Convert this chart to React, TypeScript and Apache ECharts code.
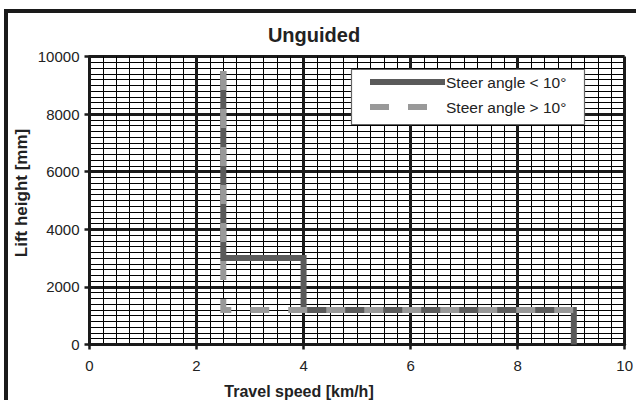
import React, { useEffect, useRef } from "react";
import * as echarts from "echarts";

const title = "Unguided";
const xAxisName = "Travel speed [km/h]";
const yAxisName = "Lift height [mm]";
const seriesNames = ["Steer angle < 10°", "Steer angle > 10°"];

// Steer angle < 10° (solid, dark)
const lowAngleSpeed = [2.5, 2.5, 4.0, 4.0, 9.05, 9.05];
const lowAngleHeight = [9500, 3000, 3000, 1200, 1200, 0];

// Steer angle > 10° (dashed, light)
const highAngleSpeed = [2.5, 2.5, 9.05];
const highAngleHeight = [9500, 1200, 1200];

const FONT = "Liberation Sans, Arial, sans-serif";

export default function App() {
  const ref = useRef<HTMLDivElement>(null);

  useEffect(() => {
    if (!ref.current) return;
    const chart = echarts.init(ref.current, null, { renderer: "svg" });
    const pairs = (xs: number[], ys: number[]) => xs.map((x, i) => [x, ys[i]]);

    chart.setOption({
      animation: false,
      backgroundColor: "#ffffff",
      grid: { left: 89.5, right: 6, top: 56.5, bottom: 55.5, containLabel: false },
      xAxis: {
        type: "value",
        min: 0,
        max: 10,
        interval: 2,
        axisLine: { show: true, onZero: false, lineStyle: { color: "#1a1a1a", width: 3 } },
        axisTick: { show: true, length: 5, lineStyle: { color: "#1a1a1a", width: 2.5 } },
        axisLabel: { color: "#222", fontFamily: FONT, fontSize: 15, margin: 13, formatter: (v: number) => String(v) },
        splitLine: { show: true, lineStyle: { color: "#1a1a1a", width: 3 } },
        minorTick: { show: false, splitNumber: 8 },
        minorSplitLine: { show: true, lineStyle: { color: "#000", width: 1 } },
      },
      yAxis: {
        type: "value",
        min: 0,
        max: 10000,
        interval: 2000,
        axisLine: { show: true, onZero: false, lineStyle: { color: "#1a1a1a", width: 3 } },
        axisTick: { show: true, length: 5, lineStyle: { color: "#1a1a1a", width: 2.5 } },
        axisLabel: { color: "#222", fontFamily: FONT, fontSize: 15, margin: 10, formatter: (v: number) => String(v) },
        splitLine: { show: true, lineStyle: { color: "#1a1a1a", width: 3 } },
        minorTick: { show: false, splitNumber: 10 },
        minorSplitLine: { show: true, lineStyle: { color: "#000", width: 1 } },
      },
      series: [
        {
          name: seriesNames[0],
          type: "line",
          data: pairs(lowAngleSpeed, lowAngleHeight),
          showSymbol: false,
          symbol: "none",
          lineStyle: { color: "#5a5a5a", width: 6, cap: "butt", join: "miter" },
          z: 3,
        },
        {
          name: seriesNames[1],
          type: "line",
          data: pairs(highAngleSpeed, highAngleHeight),
          showSymbol: false,
          symbol: "none",
          lineStyle: { color: "#999999", width: 6, type: [19, 19], cap: "butt", join: "miter" },
          z: 4,
        },
      ],
      graphic: [
        {
          type: "rect",
          z: 100,
          shape: { x: 6, y: 11, width: 700, height: 500 },
          style: { fill: "none", stroke: "#1a1a1a", lineWidth: 4 },
          silent: true,
        },
        {
          type: "text",
          z: 100,
          x: 314,
          y: 34.5,
          style: {
            text: title,
            font: `bold 20px ${FONT}`,
            fill: "#222",
            textAlign: "center",
            textVerticalAlign: "middle",
          },
        },
        {
          type: "text",
          z: 100,
          x: 21,
          y: 193,
          rotation: Math.PI / 2,
          style: {
            text: yAxisName,
            font: `bold 17px ${FONT}`,
            fill: "#222",
            textAlign: "center",
            textVerticalAlign: "middle",
          },
        },
        {
          type: "text",
          z: 100,
          x: 299,
          y: 391,
          style: {
            text: xAxisName,
            font: `bold 16px ${FONT}`,
            fill: "#222",
            textAlign: "center",
            textVerticalAlign: "middle",
          },
        },
        {
          type: "rect",
          z: 100,
          shape: { x: 351.5, y: 69.5, width: 233, height: 55 },
          style: { fill: "#ffffff", stroke: "#666", lineWidth: 1.2 },
        },
        {
          type: "line",
          z: 101,
          shape: { x1: 370, y1: 82, x2: 445, y2: 82 },
          style: { stroke: "#5a5a5a", lineWidth: 6 },
        },
        {
          type: "line",
          z: 101,
          shape: { x1: 370, y1: 107, x2: 427, y2: 107 },
          style: { stroke: "#999999", lineWidth: 6, lineDash: [19, 19] },
        },
        {
          type: "text",
          z: 101,
          x: 446,
          y: 82,
          style: {
            text: seriesNames[0],
            font: `15.5px ${FONT}`,
            fill: "#222",
            textAlign: "left",
            textVerticalAlign: "middle",
          },
        },
        {
          type: "text",
          z: 101,
          x: 446,
          y: 107,
          style: {
            text: seriesNames[1],
            font: `15.5px ${FONT}`,
            fill: "#222",
            textAlign: "left",
            textVerticalAlign: "middle",
          },
        },
      ],
    });

    return () => chart.dispose();
  }, []);

  return (
    <div
      ref={ref}
      style={{ position: "fixed", left: 0, top: 0, width: 636, height: 400, background: "#fff" }}
    />
  );
}
